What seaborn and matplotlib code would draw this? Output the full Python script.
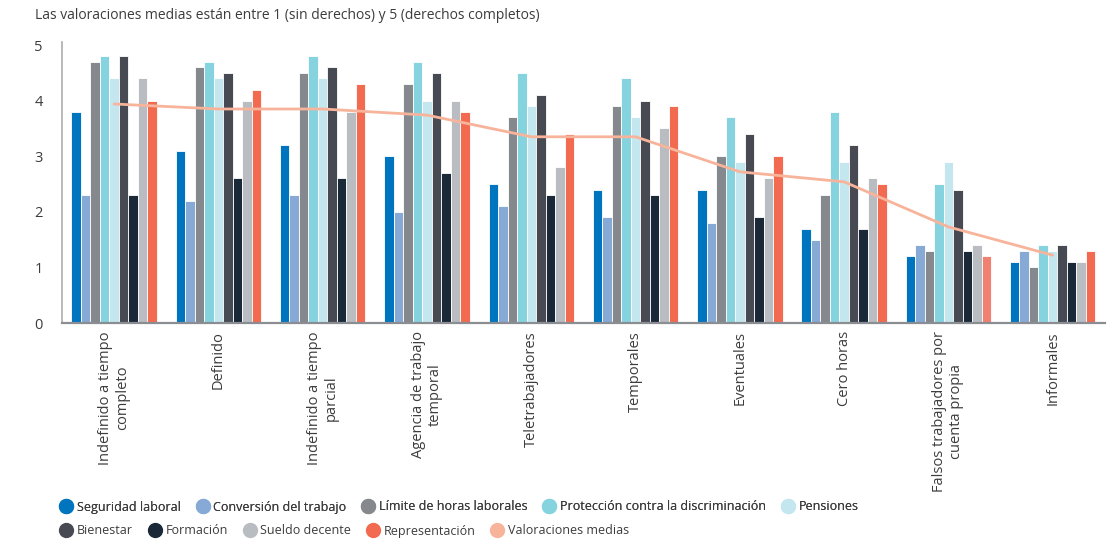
import pandas as pd
import matplotlib
matplotlib.use('Agg')
import matplotlib.pyplot as plt
import seaborn as sns
from matplotlib.lines import Line2D

# Categorías (tipos de empleo)
categorias = [
    "Indefinido a tiempo\ncompleto", "Definido", "Indefinido a tiempo\nparcial",
    "Agencia de trabajo\ntemporal", "Teletrabajadores", "Temporales",
    "Eventuales", "Cero horas", "Falsos trabajadores por\ncuenta propia", "Informales",
]

seguridad = [3.8, 3.1, 3.2, 3.0, 2.5, 2.4, 2.4, 1.7, 1.2, 1.1]
conversion = [2.3, 2.2, 2.3, 2.0, 2.1, 1.9, 1.8, 1.5, 1.4, 1.3]
limite_horas = [4.7, 4.6, 4.5, 4.3, 3.7, 3.9, 3.0, 2.3, 1.3, 1.0]
proteccion = [4.8, 4.7, 4.8, 4.7, 4.5, 4.4, 3.7, 3.8, 2.5, 1.4]
pensiones = [4.4, 4.4, 4.4, 4.0, 3.9, 3.7, 2.9, 2.9, 2.9, 1.3]
bienestar = [4.8, 4.5, 4.6, 4.5, 4.1, 4.0, 3.4, 3.2, 2.4, 1.4]
formacion = [2.3, 2.6, 2.6, 2.7, 2.3, 2.3, 1.9, 1.7, 1.3, 1.1]
sueldo = [4.4, 4.0, 3.8, 4.0, 2.8, 3.5, 2.6, 2.6, 1.4, 1.1]
representacion = [4.0, 4.2, 4.3, 3.8, 3.4, 3.9, 3.0, 2.5, 1.2, 1.3]
medias = [3.94, 3.85, 3.85, 3.74, 3.35, 3.35, 2.72, 2.54, 1.73, 1.22]

series = {
    "Seguridad laboral": seguridad,
    "Conversión del trabajo": conversion,
    "Límite de horas laborales": limite_horas,
    "Protección contra la discriminación": proteccion,
    "Pensiones": pensiones,
    "Bienestar": bienestar,
    "Formación": formacion,
    "Sueldo decente": sueldo,
    "Representación": representacion,
}
colores = ["#0075bf", "#87a9d6", "#85888d", "#86d3e0", "#c4e6ee",
           "#474a53", "#1a2838", "#b9bcc1", "#f26b50"]
color_media = "#f7b49b"
gris_texto = "#3c3c3c"

rows = []
for nombre, vals in series.items():
    for cat, v in zip(categorias, vals):
        rows.append({"categoria": cat, "serie": nombre, "valor": v})
df = pd.DataFrame(rows)

sns.set_theme(style="white")
plt.rcParams['font.family'] = ['Open Sans', 'DejaVu Sans']

fig = plt.figure(figsize=(11.2, 5.42), dpi=100)
ax = fig.add_axes([0.0554, 0.404, 0.931, 0.518])

sns.barplot(data=df, x="categoria", y="valor", hue="serie",
            hue_order=list(series.keys()), order=categorias,
            palette=dict(zip(series.keys(), colores)),
            width=0.82, edgecolor="white", linewidth=0.6,
            errorbar=None, legend=False, ax=ax, saturation=1)

# la barra de representación de falsos autónomos sale más clara en el original
ax.containers[8][8].set_facecolor("#f08070")

ax.plot(range(len(categorias)), medias, color=color_media, lw=2, zorder=5)

ax.set_ylim(0, 5.05)
ax.set_xlim(-0.5, len(categorias) - 0.5)
ax.set_yticks([0, 1, 2, 3, 4, 5])
ax.set_xlabel("")
ax.set_ylabel("")
ax.tick_params(axis="y", length=0, labelsize=10.5, colors=gris_texto, pad=14)
ax.tick_params(axis="x", length=0, pad=6)
ax.set_xticks(range(len(categorias)))
ax.set_xticklabels(categorias, rotation=90, fontsize=10.5, color=gris_texto,
                   ha="center", va="top", multialignment="center")
sns.despine(ax=ax)
ax.spines["left"].set_color("#b0b0b0")
ax.spines["bottom"].set_color("#8a8d92")
ax.spines["bottom"].set_linewidth(1.6)

fig.text(0.031, 0.972, "Las valoraciones medias están entre 1 (sin derechos) y 5 (derechos completos)",
         fontsize=10, color=gris_texto, va="center")

nombres = list(series.keys()) + ["Valoraciones medias"]
cols = colores + [color_media]
handles = [Line2D([], [], marker="o", ls="none", markersize=10, color=c) for c in cols]

opts = dict(loc="center left", ncol=5, frameon=False, fontsize=9,
            handletextpad=0.35, columnspacing=1.25, labelcolor=gris_texto,
            borderaxespad=0, handlelength=1.0)
leg1 = fig.legend(handles[:5], nombres[:5], bbox_to_anchor=(0.049, 1 - 507 / 542), **opts)
fig.legend(handles[5:], nombres[5:], bbox_to_anchor=(0.049, 1 - 531 / 542), **opts)
fig.add_artist(leg1)

plt.savefig("out.png", dpi=100)
plt.close()
